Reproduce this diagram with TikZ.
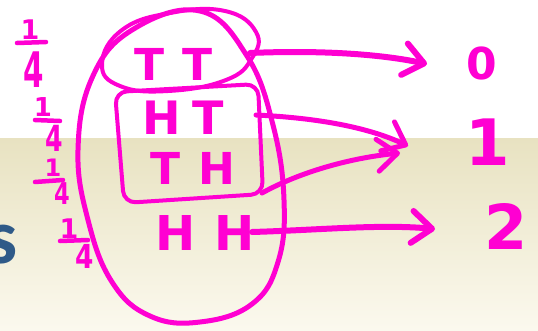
\documentclass[tikz,border=0pt]{standalone}
\usepackage{fontspec}
\setmainfont{DejaVu Sans}
\newfontfamily\carlito{Carlito}
\usetikzlibrary{arrows.meta}
\definecolor{mag}{RGB}{255,0,210}
\definecolor{beigetop}{RGB}{232,226,193}
\definecolor{beigebot}{RGB}{251,249,238}
\definecolor{slideblue}{RGB}{47,90,136}
\newcommand\hfs[1]{\fontsize{#1}{#1}\selectfont}
\newcommand\narrow[2]{\scalebox{#1}[1]{#2}}
\begin{document}
\begin{tikzpicture}[x=1pt,y=-1pt,
  ink/.style={draw=mag, line width=5pt, line cap=round, line join=round},
  hand/.style={text=mag, inner sep=0pt},
  arr/.style={ink, -{Straight Barb[length=20pt,width=32pt,round]}},
]
\useasboundingbox (0,0) rectangle (538,330);
\clip (0,0) rectangle (538,330);
\fill[white] (0,0) rectangle (538,138);
\shade[top color=beigetop,bottom color=beigebot] (0,138) rectangle (538,330);

% slide text fragment
\node[anchor=base east, inner sep=0pt, text=slideblue, font=\carlito\bfseries\hfs{78}] (s) at (18,263) {s};

% big ellipse
\draw[ink] plot[smooth cycle, tension=0.7] coordinates {(200,11) (247,56) (273,125) (284,200) (278,262) (252,304) (200,322) (150,316) (112,282) (88,220) (78,150) (92,78) (132,30)};
% small ellipse round TT
\draw[ink, line width=4pt] plot[smooth cycle, tension=0.75] coordinates {(102,64) (122,30) (170,13) (225,11) (256,32) (252,58) (226,80) (168,91) (120,86)};
% box round HT, TH
\draw[ink, line width=4pt, rounded corners=12pt] (115,92) -- (258,84) -- (263,194) -- (124,203) -- cycle;

% outcomes
\node[hand, font=\bfseries\hfs{44}] (TT) at (174,64) {T\kern18pt T};
\node[hand, font=\bfseries\hfs{46}] (HT) at (183,118) {H\kern11pt T};
\node[hand, font=\bfseries\hfs{44}] (TH) at (193,168) {T\kern18pt H};
\node[hand, font=\bfseries\hfs{48}] (HH) at (205,233) {H\kern19pt H};

% values
\node[hand, font=\bfseries\hfs{44}] (v0) at (482,63) {0};
\node[hand, font=\bfseries\hfs{64}] (v1) at (488,142) {1};
\node[hand, font=\bfseries\hfs{62}] (v2) at (506,226) {2};

% probabilities 1/4
\node[hand, font=\bfseries\hfs{27}] (n1) at (30,30) {1};
\node[hand, font=\bfseries\hfs{49}] (d1) at (34,70) {\narrow{0.6}{4}};
\node[hand, font=\bfseries\hfs{26}] (n2) at (43,107) {1};
\node[hand, font=\bfseries\hfs{36}] (d2) at (54,138) {\narrow{0.7}{4}};
\node[hand, font=\bfseries\hfs{24}] (n3) at (53,168) {1};
\node[hand, font=\bfseries\hfs{30}] (d3) at (62,194) {\narrow{0.75}{4}};
\node[hand, font=\bfseries\hfs{27}] (n4) at (69,229) {1};
\node[hand, font=\bfseries\hfs{33}] (d4) at (85,256) {\narrow{0.8}{4}};
\draw[ink, line width=4.5pt] (17,43) -- (46,42);
\draw[ink, line width=4.5pt] (35,120) -- (60,121);
\draw[ink, line width=4.5pt] (35,182) -- (63,180);
\draw[ink, line width=4.5pt] (60,241) -- (88,240);

% arrows
\coordinate (s0) at (250,53);
\coordinate (t0) at (427,64);
\coordinate (s1) at (256,115);
\coordinate (t1) at (408,146);
\coordinate (s2) at (262,193);
\coordinate (t2) at (400,153);
\coordinate (s3) at (252,232);
\coordinate (t3) at (435,229);
\draw[arr, line width=6pt] (s0) .. controls (320,50) and (380,54) .. (t0);
\draw[arr] (s1) .. controls (320,118) and (370,128) .. (t1);
\draw[arr] (s2) .. controls (300,172) and (350,158) .. (t2);
\draw[arr, line width=6pt] (s3) .. controls (320,230) and (380,224) .. (t3);
\end{tikzpicture}
\end{document}
